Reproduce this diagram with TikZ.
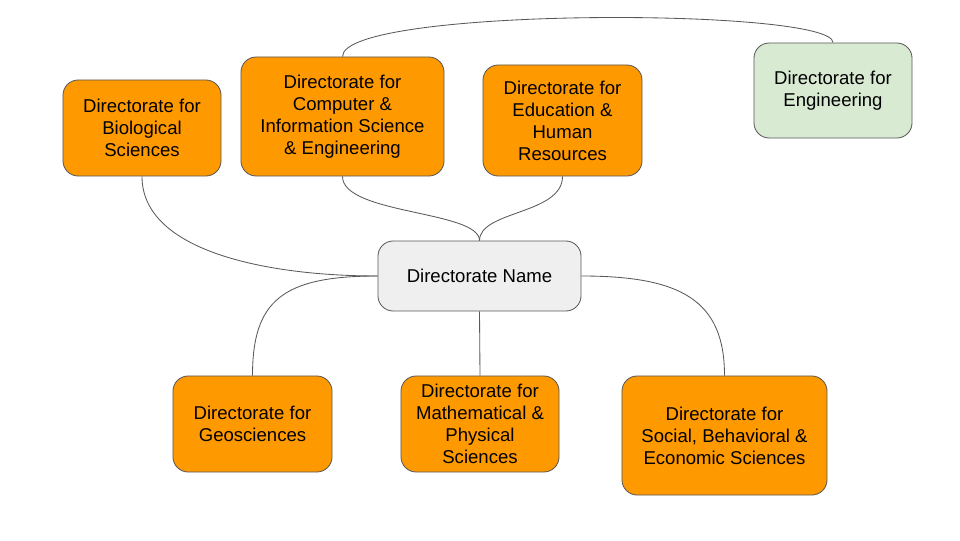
\documentclass[tikz,border=0pt]{standalone}
\usepackage{fontspec}
\setmainfont{Liberation Sans}
\definecolor{dirorange}{HTML}{FF9900}
\definecolor{enggreen}{HTML}{D9EAD3}
\definecolor{namegray}{HTML}{EFEFEF}
\definecolor{edgegray}{HTML}{595959}
\begin{document}
\begin{tikzpicture}[
		x=0.025cm, y=-0.025cm,
		box/.style={draw=edgegray, line width=0.6pt, rounded corners=0.38cm, align=center,
				inner sep=0pt, font=\fontsize{13.2}{15.6}\selectfont},
		dir/.style={box, fill=dirorange},
		link/.style={draw=edgegray, line width=0.6pt},
	]
	\path[use as bounding box] (0,0) rectangle (960,540);
	% centre and the directorates round it
	\node[box, fill=namegray, minimum width=5.075cm, minimum height=1.75cm] (name) at (479.5,276) {Directorate Name};
	\node[dir, minimum width=3.95cm, minimum height=2.4cm] (bio) at (142,128) {Directorate for\\Biological\\Sciences};
	\node[dir, minimum width=5.075cm, minimum height=2.975cm] (cise) at (342.5,116.5) {Directorate for\\Computer \&\\Information Science\\\& Engineering};
	\node[dir, minimum width=3.975cm, minimum height=2.775cm] (ehr) at (562.5,120.5) {Directorate for\\Education \&\\Human\\Resources};
	\node[box, fill=enggreen, minimum width=3.95cm, minimum height=2.375cm] (eng) at (833,90.5) {Directorate for\\Engineering};
	\node[dir, minimum width=3.975cm, minimum height=2.4cm] (geo) at (252.5,424) {Directorate for\\Geosciences};
	\node[dir, minimum width=3.95cm, minimum height=2.4cm] (mps) at (480,424) {Directorate for\\Mathematical \&\\Physical\\Sciences};
	\node[dir, minimum width=5.125cm, minimum height=2.975cm] (sbe) at (724.5,435.5) {Directorate for\\Social, Behavioral \&\\Economic Sciences};
	% links
	\draw[link] (bio.south) .. controls +(0,75) and +(-110,0) .. (name.west);
	\draw[link] (cise.south) .. controls +(0,38) and +(0,-30) .. (name.north);
	\draw[link] (ehr.south) .. controls +(0,38) and +(0,-30) .. (name.north);
	\draw[link] (name.west) .. controls +(-95,0) and +(0,-75) .. (geo.north);
	\draw[link] (name.south) -- (mps.north);
	\draw[link] (name.east) .. controls +(100,0) and +(0,-75) .. (sbe.north);
	\draw[link] (cise.north) .. controls +(0,-50) and +(0,-35) .. (eng.north);
\end{tikzpicture}
\end{document}
